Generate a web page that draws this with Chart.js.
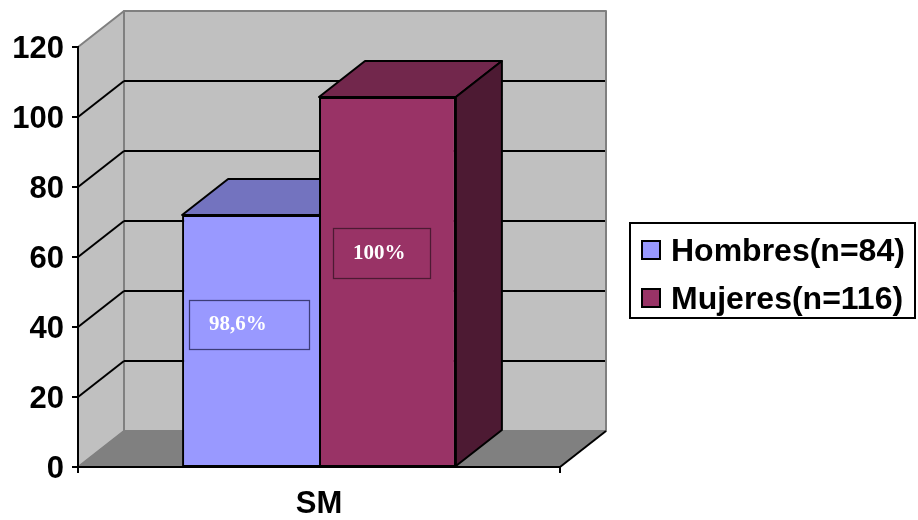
<!DOCTYPE html>
<html>
<head>
<meta charset="utf-8">
<title>SM</title>
<script src="https://cdn.jsdelivr.net/npm/chart.js@4"></script>
<style>
  html, body { margin: 0; background: #fff; }
  canvas { display: block; }
</style>
</head>
<body>
<canvas id="chart" width="918" height="520"></canvas>
<script>
// Chart data
const categories = ['SM'];
const seriesNames = ['Hombres(n=84)', 'Mujeres(n=116)'];
const hombres = [72];
const mujeres = [105.7];
const barNotes = ['98,6%', '100%'];
const noteLevels = [40.7, 61.1]; // height of each note box on the y axis
const yTicks = [0, 20, 40, 60, 80, 100, 120];

// Oblique offset of the back wall
const DEPTH_X = 46;
const DEPTH_Y = 36;
const FONT = "'Liberation Sans', Arial, sans-serif";

function poly(ctx, pts, fill, stroke, width) {
  ctx.beginPath();
  pts.forEach(([x, y], i) => (i ? ctx.lineTo(x, y) : ctx.moveTo(x, y)));
  ctx.closePath();
  ctx.fillStyle = fill;
  ctx.fill();
  if (stroke) {
    ctx.strokeStyle = stroke;
    ctx.lineWidth = width;
    ctx.lineJoin = 'round';
    ctx.stroke();
  }
}

function line(ctx, x1, y1, x2, y2, color, width) {
  ctx.beginPath();
  ctx.moveTo(x1, y1);
  ctx.lineTo(x2, y2);
  ctx.strokeStyle = color;
  ctx.lineWidth = width;
  ctx.stroke();
}

// Back wall, side wall, floor and their gridlines
const walls = {
  id: 'walls',
  beforeDraw(chart) {
    const { ctx, chartArea: a, scales: { y } } = chart;
    const bx = a.left + DEPTH_X;
    const rx = a.right + DEPTH_X;
    const grey = '#808080';
    ctx.save();
    poly(ctx, [[bx, a.top - DEPTH_Y], [rx, a.top - DEPTH_Y], [rx, a.bottom - DEPTH_Y], [bx, a.bottom - DEPTH_Y]], '#c0c0c0', grey, 2);
    poly(ctx, [[a.left, a.top], [bx, a.top - DEPTH_Y], [bx, a.bottom - DEPTH_Y], [a.left, a.bottom]], '#c0c0c0', grey, 2);
    poly(ctx, [[a.left, a.bottom], [bx, a.bottom - DEPTH_Y], [rx, a.bottom - DEPTH_Y], [a.right, a.bottom]], grey, grey, 1);
    yTicks.slice(1, -1).forEach(v => {
      const py = y.getPixelForValue(v);
      line(ctx, a.left, py, bx, py - DEPTH_Y, '#000', 2);
      line(ctx, bx, py - DEPTH_Y, rx - 1, py - DEPTH_Y, '#000', 2);
    });
    line(ctx, a.right, a.bottom, rx, a.bottom - DEPTH_Y, '#000', 2);
    ctx.restore();
  }
};

// Top and side faces of the bars, left bar first; Chart.js then paints the
// front faces, so the right bar's front hides the left bar's side
const barDepth = {
  id: 'barDepth',
  beforeDatasetsDraw(chart) {
    const { ctx } = chart;
    ctx.save();
    chart.data.datasets.forEach((ds, i) => {
      const bar = chart.getDatasetMeta(i).data[0].getProps(['x', 'y', 'base', 'width'], true);
      const l = bar.x - bar.width / 2;
      const r = bar.x + bar.width / 2;
      poly(ctx, [[l, bar.y], [l + DEPTH_X, bar.y - DEPTH_Y], [r + DEPTH_X, bar.y - DEPTH_Y], [r, bar.y]], ds.topColor, '#000', 2);
      poly(ctx, [[r, bar.y], [r + DEPTH_X, bar.y - DEPTH_Y], [r + DEPTH_X, bar.base - DEPTH_Y], [r, bar.base]], ds.sideColor, '#000', 2);
    });
    ctx.restore();
  }
};

// Boxed notes on the bars and the legend on the right
const overlays = {
  id: 'overlays',
  afterDatasetsDraw(chart) {
    const { ctx, scales: { y } } = chart;
    const datasets = chart.data.datasets;
    const boxes = [
      { w: 120, h: 49, dx: -1.5 },
      { w: 97, h: 50, dx: -6 }
    ];
    ctx.save();
    datasets.forEach((ds, i) => {
      const bar = chart.getDatasetMeta(i).data[0];
      const b = boxes[i];
      const left = bar.x + b.dx - b.w / 2;
      const cy = y.getPixelForValue(noteLevels[i]);
      ctx.strokeStyle = ds.sideColor;
      ctx.lineWidth = 1.25;
      ctx.strokeRect(Math.round(left) + 0.5, Math.round(cy - b.h / 2) + 0.5, b.w, b.h);
      ctx.fillStyle = '#fff';
      ctx.font = "bold 21px 'Liberation Serif', 'Times New Roman', serif";
      ctx.textAlign = 'left';
      ctx.textBaseline = 'middle';
      ctx.fillText(barNotes[i], left + 20, cy);
    });

    ctx.strokeStyle = '#000';
    ctx.lineWidth = 2;
    ctx.fillStyle = '#fff';
    ctx.fillRect(630, 223, 285, 95);
    ctx.strokeRect(630, 223, 285, 95);
    datasets.forEach((ds, i) => {
      const rowY = 250 + i * 48;
      ctx.fillStyle = ds.backgroundColor;
      ctx.fillRect(642, rowY - 9, 18, 18);
      ctx.strokeRect(642, rowY - 9, 18, 18);
      ctx.fillStyle = '#000';
      ctx.font = 'bold 32px ' + FONT;
      ctx.textAlign = 'left';
      ctx.textBaseline = 'middle';
      ctx.fillText(ds.label, 671, rowY + 2);
    });
    ctx.restore();
  }
};

new Chart(document.getElementById('chart'), {
  type: 'bar',
  data: {
    labels: categories,
    datasets: [
      {
        label: seriesNames[0],
        data: hombres,
        backgroundColor: '#9999ff',
        borderWidth: { top: 2, left: 2, right: 0, bottom: 1 },
        topColor: '#7373bf',
        sideColor: '#3c3c78'
      },
      {
        label: seriesNames[1],
        data: mujeres,
        backgroundColor: '#993366',
        borderWidth: { top: 2, left: 2, right: 2, bottom: 1 },
        topColor: '#72274c',
        sideColor: '#4d1a33'
      }
    ]
  },
  options: {
    responsive: false,
    animation: false,
    layout: { padding: { left: 0, top: 47, right: 358, bottom: 0 } },
    datasets: {
      bar: {
        categoryPercentage: 0.568,
        barPercentage: 1,
        borderColor: '#000',
        borderSkipped: false
      }
    },
    plugins: { legend: { display: false }, tooltip: { enabled: false } },
    scales: {
      x: {
        afterFit: scale => { scale.height = 53; },
        border: { color: '#000', width: 2 },
        grid: { drawOnChartArea: false, color: '#000', lineWidth: 2, tickLength: 6 },
        ticks: { color: '#000', padding: 13, font: { family: FONT, size: 31, weight: 'bold' } }
      },
      y: {
        min: 0,
        max: 120,
        afterFit: scale => { scale.width = 78; },
        afterBuildTicks: scale => { scale.ticks = yTicks.map(value => ({ value })); },
        border: { color: '#000', width: 2 },
        grid: { drawOnChartArea: false, color: '#000', lineWidth: 2, tickLength: 6 },
        ticks: { color: '#000', padding: 8, labelOffset: 2, font: { family: FONT, size: 31, weight: 'bold' } }
      }
    }
  },
  plugins: [walls, barDepth, overlays]
});
</script>
</body>
</html>
